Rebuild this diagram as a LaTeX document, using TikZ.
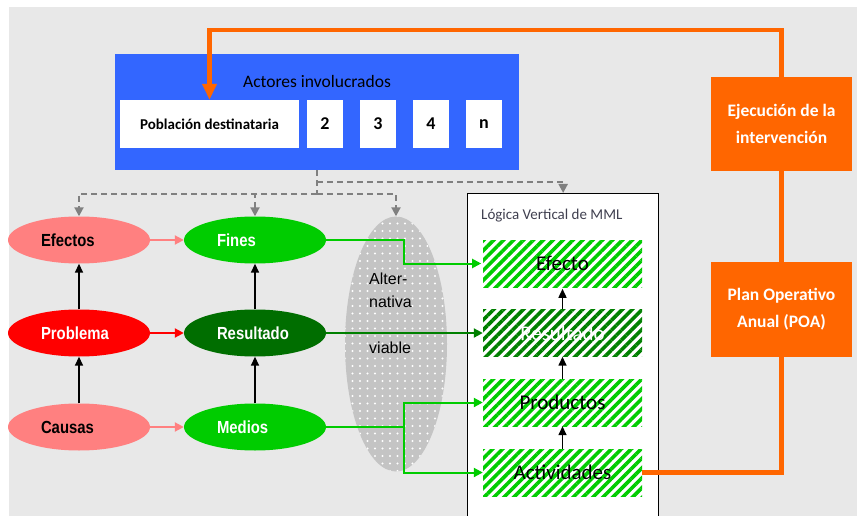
\documentclass[tikz,border=0pt]{standalone}
\usepackage{fontspec}
\setmainfont{Carlito}
\newfontfamily\narrowsans[FakeStretch=0.85]{Liberation Sans}
\newfontfamily\plainsans{Liberation Sans}
\usetikzlibrary{arrows.meta,shapes.geometric,patterns.meta}
\definecolor{bggray}{HTML}{E8E8E8}
\definecolor{actblue}{HTML}{3366FF}
\definecolor{orng}{HTML}{FF6600}
\definecolor{pinkr}{HTML}{FF8080}
\definecolor{redp}{HTML}{FF0000}
\definecolor{lgreen}{HTML}{00CC00}
\definecolor{dgreen}{HTML}{006E00}
\definecolor{mgreen}{HTML}{008000}
\definecolor{dashgray}{HTML}{808080}
\definecolor{altgray}{HTML}{C4C4C4}
\definecolor{titlegray}{HTML}{404050}
\begin{document}
\begin{tikzpicture}[x=1pt,y=-1pt,
  oval/.style={ellipse, inner sep=0pt, minimum width=142pt, minimum height=47pt,
    text width=76pt, align=left, font=\narrowsans\bfseries\fontsize{17.5}{19}\selectfont},
  whitebox/.style={rectangle, fill=white, inner sep=0pt, minimum height=48pt,
    font=\bfseries\fontsize{15}{17}\selectfont},
  numbox/.style={whitebox, minimum width=36pt, font=\bfseries\fontsize{18}{20}\selectfont},
  hatchbox/.style={rectangle, inner sep=0pt, minimum width=159pt, minimum height=47pt,
    preaction={fill=white}, pattern={Lines[angle=45,distance=7pt,line width=3.6pt]},
    pattern color=lgreen, font=\fontsize{21}{23}\selectfont},
  orangebox/.style={rectangle, fill=orng, inner sep=0pt, minimum width=141pt,
    minimum height=94pt, align=center, text=white, font=\bfseries\fontsize{17.5}{27}\selectfont},
  gdash/.style={draw=dashgray, line width=2pt, dash pattern=on 6pt off 4pt},
  gtip/.style={-{Triangle[length=9pt,width=9pt]}},
  harrow/.style={line width=2pt, -{Triangle[length=9pt,width=9pt]}},
  varrow/.style={draw=black, line width=1.5pt, -{Triangle[length=9pt,width=8pt]}},
  oline/.style={draw=orng, line width=4.5pt},
]
\useasboundingbox (0,0) rectangle (857,516);
\clip (0,0) rectangle (857,516);
\fill[white] (0,0) rectangle (857,516);
\fill[bggray] (9,7) rectangle (857,516);

% Actores involucrados
\node[rectangle, fill=actblue, inner sep=0pt, minimum width=404pt, minimum height=116pt] (actors) at (317,112) {};
\node[font=\fontsize{17.5}{19}\selectfont] (actorstitle) at (317,81) {Actores involucrados};
\node[whitebox, minimum width=179pt] (pob) at (209.5,124) {Población destinataria};
\node[numbox] (b2) at (325,124) {2};
\node[numbox] (b3) at (378,124) {3};
\node[numbox] (b4) at (431,124) {4};
\node[numbox] (bn) at (484,124) {n};

% ellipses
\node[oval, fill=pinkr, text=black] (efectos) at (79,240) {Efectos};
\node[oval, fill=lgreen, text=white] (fines) at (255,240) {Fines};
\node[oval, fill=redp, text=white] (problema) at (79,333) {Problema};
\node[oval, fill=dgreen, text=white] (resultado) at (255,333) {Resultado};
\node[oval, fill=pinkr, text=black] (causas) at (79,427) {Causas};
\node[oval, fill=lgreen, text=white] (medios) at (255,427) {Medios};

% alternative ellipse
\node[ellipse, inner sep=0pt, minimum width=102pt, minimum height=255pt, fill=altgray,
  postaction={pattern={Dots[distance=7.5pt,radius=1.1pt]}, pattern color=white}] (alt) at (396,344) {};
\node[anchor=north west, inner sep=0pt, align=left, font=\plainsans\fontsize{16}{23}\selectfont] (alttext) at (369,273) {Alter-\\nativa\\[23pt]viable};

% MML box
\node[rectangle, draw=black, line width=1.3pt, fill=white, anchor=north west,
  minimum width=191pt, minimum height=340pt, inner sep=0pt] (mml) at (467,193) {};
\node[anchor=west, inner sep=0pt, text=titlegray, font=\fontsize{15}{17}\selectfont] (mmltitle) at (481,216) {Lógica Vertical de MML};
\node[hatchbox] (efectobox) at (562.5,263.5) {Efecto};
\node[hatchbox, pattern color=mgreen, text=white] (resbox) at (562.5,333) {Resultado};
\node[hatchbox] (prodbox) at (562.5,402.5) {Productos};
\node[hatchbox] (actbox) at (562.5,472.5) {Actividades};

% orange boxes
\node[orangebox] (ejec) at (781.5,124) {Ejecución de la\\intervención};
\node[orangebox, minimum height=95pt] (poa) at (781.5,309.5) {Plan Operativo\\Anual (POA)};

% dashed connectors
\coordinate (d1) at (317,194);
\coordinate (d2) at (317,182);
\draw[gdash] (actors.south) -- (d1);
\draw[gdash, gtip] (d1) -| (efectos.north);
\draw[gdash, gtip] (d1) -| (fines.north);
\draw[gdash, gtip] (d1) -| (alt.north);
\draw[gdash, gtip] (d2) -| (mml.north);

% horizontal arrows in tree
\draw[harrow, draw=pinkr] (efectos.east) -- (fines.west);
\draw[harrow, draw=redp] (problema.east) -- (resultado.west);
\draw[harrow, draw=pinkr] (causas.east) -- (medios.west);

% vertical arrows
\draw[varrow] (problema.north) -- (efectos.south);
\draw[varrow] (causas.north) -- (problema.south);
\draw[varrow] (resultado.north) -- (fines.south);
\draw[varrow] (medios.north) -- (resultado.south);
\draw[varrow] (resbox.north) -- (efectobox.south);
\draw[varrow] (prodbox.north) -- (resbox.south);
\draw[varrow] (actbox.north) -- (prodbox.south);

% green connectors
\coordinate (jf) at (404,240);
\coordinate (jm) at (404,427);
\draw[harrow, draw=lgreen] (fines.east) -- (jf) |- (efectobox.west);
\draw[harrow, draw=mgreen] (resultado.east) -- (resbox.west);
\draw[line width=2pt, draw=lgreen] (medios.east) -- (jm);
\draw[harrow, draw=lgreen] (jm) |- (prodbox.west);
\draw[harrow, draw=lgreen] (jm) |- (actbox.west);

% orange loop
\coordinate (ocorner) at (209.5,30);
\draw[oline] (actbox.east) -| (poa.south);
\draw[oline] (poa.north) -- (ejec.south);
\draw[oline, -{Triangle[length=16pt,width=14pt]}] (ejec.north) |- (ocorner) -- (pob.north);
\end{tikzpicture}
\end{document}
